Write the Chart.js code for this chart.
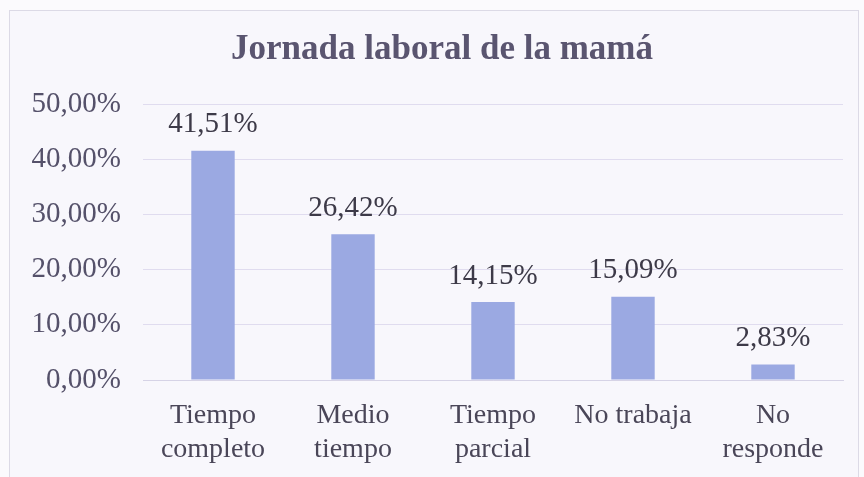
<!DOCTYPE html>
<html>
<head>
<meta charset="utf-8">
<script src="https://cdn.jsdelivr.net/npm/chart.js@4"></script>
<style>
  html, body { margin: 0; padding: 0; background: #fbfafd; }
  #frame {
    position: absolute; left: 9px; top: 10px; width: 848px; height: 480px;
    border: 1px solid #dcdae6; background: #f8f7fc;
  }
  #wrap { position: absolute; left: 0; top: 0; width: 864px; height: 477px; }
</style>
</head>
<body>
<div id="frame"></div>
<div id="wrap"><canvas id="myChart" width="864" height="477"></canvas></div>
<script>
// Jornada laboral de la mamá - bar chart

const chartTitle = 'Jornada laboral de la mamá';
const categories = [['Tiempo', 'completo'], ['Medio', 'tiempo'], ['Tiempo', 'parcial'], 'No trabaja', ['No', 'responde']];
const percentValues = [41.51, 26.42, 14.15, 15.09, 2.83];
const tickValues = [0, 10, 20, 30, 40, 50];

function fmt(v, d) {
    return v.toFixed(d).replace('.', ',') + '%';
}

// draws the value over every bar, and the title (centred a bit right like the original)
const valueLabels = {
    id: 'valueLabels',
    afterDatasetsDraw(chart) {
        const ctx = chart.ctx;
        const meta = chart.getDatasetMeta(0);
        ctx.save();
        ctx.font = '29px "Liberation Serif", serif';
        ctx.fillStyle = '#3d3a48';
        ctx.textAlign = 'center';
        ctx.textBaseline = 'middle';
        meta.data.forEach((bar, i) => {
            ctx.fillText(fmt(percentValues[i], 2), bar.x, bar.y - 26);
        });
        ctx.font = 'bold 35px "Liberation Serif", serif';
        ctx.fillStyle = '#5a5570';
        ctx.fillText(chartTitle, 442, 50);
        ctx.restore();
    }
};

const data = {
    labels: categories,
    datasets: [{
        data: percentValues,
        backgroundColor: '#9ba9e2',
        borderWidth: 0,
        categoryPercentage: 1,
        barPercentage: 0.31
    }]
};

const options = {
    responsive: false,
    animation: false,
    layout: { padding: { top: 104, right: 21 } },
    plugins: {
        legend: { display: false },
        tooltip: { enabled: false },
        title: { display: false }
    },
    scales: {
        x: {
            grid: { display: false },
            border: { display: true, color: '#d6d3e6' },
            ticks: {
                color: '#4a4658',
                padding: 11,
                maxRotation: 0,
                font: { family: '"Liberation Serif", serif', size: 28, lineHeight: 1.2 }
            },
            afterFit(scale) { scale.height = 97; }
        },
        y: {
            min: 0,
            max: 50,
            afterBuildTicks(scale) { scale.ticks = tickValues.map(v => ({ value: v })); },
            grid: { color: '#e0dcef', drawTicks: false },
            border: { display: false },
            ticks: {
                color: '#55516a',
                padding: 22,
                font: { family: '"Liberation Serif", serif', size: 29 },
                callback: v => fmt(v, 2)
            },
            afterFit(scale) { scale.width = 143; }
        }
    }
};

window.onload = function() {
    const ctx = document.getElementById('myChart').getContext('2d');
    new Chart(ctx, { type: 'bar', data: data, options: options, plugins: [valueLabels] });
};
</script>
</body>
</html>
